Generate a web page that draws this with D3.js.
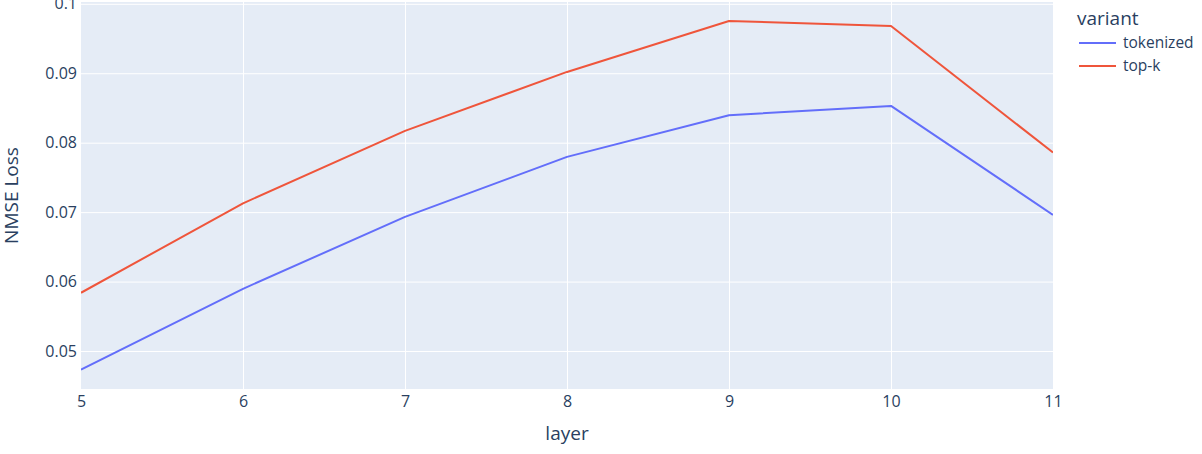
<!DOCTYPE html>
<html><head><meta charset="utf-8">
<script src="https://cdn.jsdelivr.net/npm/d3@7"></script>
<style>body{margin:0;background:#fff}svg{display:block}</style>
</head><body><svg id="c" width="1202" height="454"></svg>
<script>
const layers = [5, 6, 7, 8, 9, 10, 11];
const tokenized = [0.04731, 0.05896, 0.06932, 0.07796, 0.08396, 0.08530, 0.06961];
const topk = [0.05839, 0.07127, 0.08170, 0.09019, 0.09753, 0.09681, 0.07858];
const seriesNames = ["tokenized", "top-k"];
const seriesColors = ["#636efa", "#EF553B"];
const yTicks = [0.05, 0.06, 0.07, 0.08, 0.09, 0.1];
const yDomain = [0.04453, 0.10026];

const svg = d3.select("#c");
const L = 81, R = 1053, T = 2, B = 389;
const x = d3.scaleLinear().domain([5, 11]).range([L, R]);
const y = d3.scaleLinear().domain(yDomain).range([B, T]);
const font = "'Open Sans', sans-serif";
const tc = "#2a3f5f";

svg.append("rect").attr("x", L).attr("y", T).attr("width", R - L).attr("height", B - T).attr("fill", "#E5ECF6");

const gx = svg.append("g").attr("transform", `translate(0,${B})`)
  .call(d3.axisBottom(x).tickValues(layers).tickSize(-(B - T)).tickPadding(7).tickFormat(d3.format("d")));
const gy = svg.append("g").attr("transform", `translate(${L},0)`)
  .call(d3.axisLeft(y).tickValues(yTicks).tickSize(-(R - L)).tickPadding(4).tickFormat(d => d === 0.1 ? "0.1" : d3.format(".2f")(d)));
[gx, gy].forEach(g => {
  g.select(".domain").remove();
  g.selectAll("line").attr("stroke", "#fff").attr("stroke-width", 1);
  g.selectAll("text").attr("fill", tc).style("font-family", font).style("font-size", "16px");
});
gx.selectAll(".tick line").filter(d => d === 5 || d === 11).remove();

const clip = svg.append("clipPath").attr("id", "clp").append("rect").attr("x", L).attr("y", T - 2).attr("width", R - L).attr("height", B - T + 2);
const line = d3.line().x((d, i) => x(layers[i])).y(d => y(d));
[tokenized, topk].forEach((s, i) => {
  svg.append("path").datum(s).attr("d", line).attr("fill", "none")
    .attr("stroke", seriesColors[i]).attr("stroke-width", 2).attr("stroke-linejoin", "round")
    .attr("clip-path", "url(#clp)");
});

svg.append("text").attr("x", (L + R) / 2).attr("y", 440).attr("text-anchor", "middle")
  .attr("fill", tc).style("font-family", font).style("font-size", "19px").text("layer");
svg.append("text").attr("transform", `translate(18,${(T + B) / 2}) rotate(-90)`).attr("text-anchor", "middle")
  .attr("fill", tc).style("font-family", font).style("font-size", "19px").text("NMSE Loss");

const lg = svg.append("g");
lg.append("text").attr("x", 1077).attr("y", 25).attr("fill", tc).style("font-family", font).style("font-size", "19px").text("variant");
seriesNames.forEach((n, i) => {
  const yy = 43 + i * 23;
  lg.append("line").attr("x1", 1079).attr("x2", 1116).attr("y1", yy).attr("y2", yy).attr("stroke", seriesColors[i]).attr("stroke-width", 2);
  lg.append("text").attr("x", 1123).attr("y", yy + 5).attr("fill", tc).style("font-family", font).style("font-size", "15.5px").text(n);
});
</script></body></html>
